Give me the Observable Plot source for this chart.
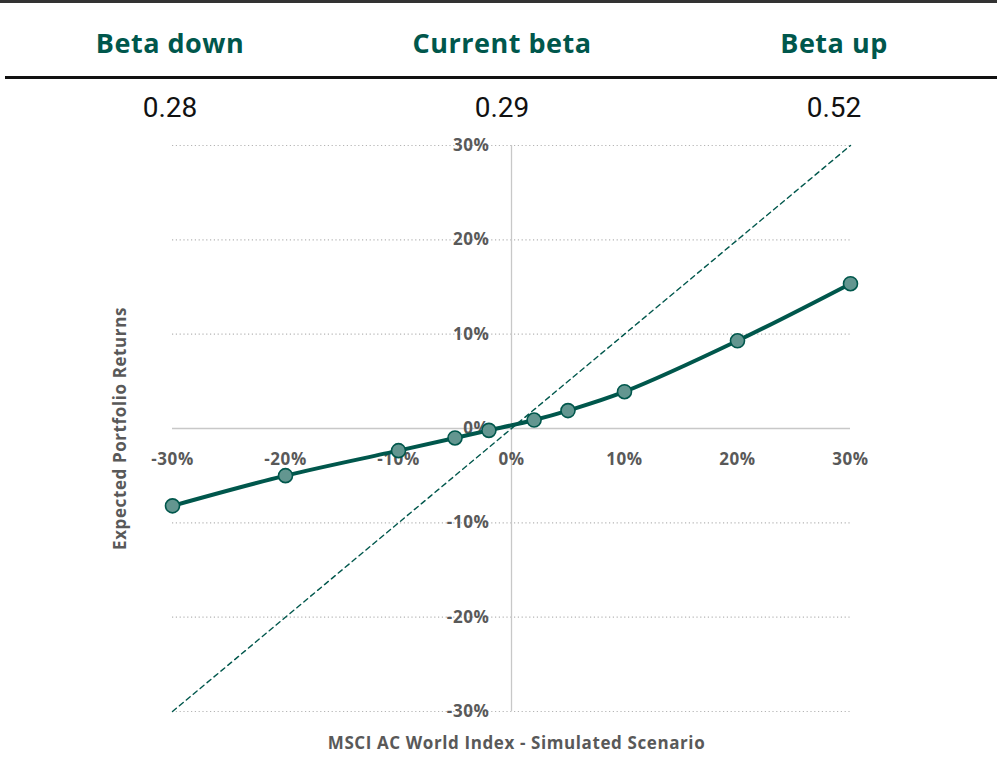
<!DOCTYPE html>
<html>
<head>
<meta charset="utf-8">
<script src="https://cdn.jsdelivr.net/npm/d3@7"></script>
<script src="https://cdn.jsdelivr.net/npm/@observablehq/plot@0.6"></script>
<style>
  html, body { margin: 0; padding: 0; background: #fff; }
  body { width: 997px; height: 764px; position: relative; overflow: hidden; font-family: "Open Sans", sans-serif; }
  .topline { position: absolute; left: 0; top: 0; width: 997px; height: 3px; background: #333; }
  .midline { position: absolute; left: 5px; top: 76px; width: 992px; height: 2.5px; background: #111; }
  .row { position: absolute; left: 4px; width: 996px; display: flex; }
  .row div { width: 332px; text-align: center; }
  .heads { top: 24px; font-weight: 700; font-size: 27px; color: #00574c; letter-spacing: 0.5px; }
  .vals { top: 91px; font-family: Roboto, sans-serif; font-size: 28px; color: #111; }
  #chart { position: absolute; left: 0; top: 124px; }
</style>
</head>
<body>
<div class="topline"></div>
<div class="row heads" id="heads"></div>
<div class="midline"></div>
<div class="row vals" id="vals"></div>
<div id="chart"></div>
<script>
const headers = ["Beta down", "Current beta", "Beta up"];
const betas = ["0.28", "0.29", "0.52"];

const marketReturns = [-30, -20, -10, -5, -2, 2, 5, 10, 20, 30];
const portfolioReturns = [-8.2, -5.0, -2.35, -1.0, -0.2, 0.9, 1.9, 3.9, 9.3, 15.35];

const xTicks = [-30, -20, -10, 0, 10, 20, 30];
const xTickLabels = ["-30%", "-20%", "-10%", "0%", "10%", "20%", "30%"];
const yTicks = [30, 20, 10, 0, -10, -20, -30];
const yTickLabels = ["30%", "20%", "10%", "0%", "-10%", "-20%", "-30%"];

const refLine = [-30, 30];

const xTitle = "MSCI AC World Index - Simulated Scenario";
const yTitle = "Expected Portfolio Returns";

headers.forEach(h => { const d = document.createElement("div"); d.textContent = h; document.getElementById("heads").appendChild(d); });
betas.forEach(v => { const d = document.createElement("div"); d.textContent = v; document.getElementById("vals").appendChild(d); });

const teal = "#00574c";
const axisGray = "#595959";
const data = marketReturns.map((x, i) => ({x, y: portfolioReturns[i]}));
const xt = xTicks.map((v, i) => ({v, label: xTickLabels[i]}));
const yt = yTicks.map((v, i) => ({v, label: yTickLabels[i]}));

const chart = Plot.plot({
  width: 997,
  height: 640,
  marginLeft: 172,
  marginRight: 147,
  marginTop: 21,
  marginBottom: 53,
  style: {fontFamily: "'Open Sans', sans-serif", background: "transparent", overflow: "visible", letterSpacing: "0.6px"},
  x: {domain: [-30, 30], axis: null},
  y: {domain: [-30, 30], axis: null},
  marks: [
    Plot.ruleY(yTicks.filter(v => v !== 0), {stroke: "#b5b5b5", strokeWidth: 1.2, strokeDasharray: "1.2,2.6"}),
    Plot.ruleY([0], {stroke: "#c8c8c8", strokeWidth: 1.3}),
    Plot.ruleX([0], {stroke: "#c8c8c8", strokeWidth: 1.3}),
    Plot.text(yt, {x: () => 0, y: "v", text: "label", dx: -22, textAnchor: "end", fontSize: 17, fontWeight: 700, fill: axisGray}),
    Plot.text(xt, {x: "v", y: () => 0, text: "label", dy: 31, fontSize: 17, fontWeight: 700, fill: axisGray}),
    Plot.line(refLine.map(v => ({x: v, y: v})), {x: "x", y: "y", stroke: teal, strokeWidth: 1.4, strokeDasharray: "5,4"}),
    Plot.line(data, {x: "x", y: "y", stroke: teal, strokeWidth: 4, curve: "catmull-rom"}),
    Plot.dot(data, {x: "x", y: "y", r: 7, fill: "#639690", stroke: teal, strokeWidth: 1.6}),
    Plot.text([xTitle], {frameAnchor: "bottom", dy: 37, dx: 5, fontSize: 17, fontWeight: 700, fill: axisGray}),
    Plot.text([yTitle], {frameAnchor: "left", textAnchor: "middle", dx: -52, rotate: -90, fontSize: 17, fontWeight: 700, fill: axisGray})
  ]
});
document.getElementById("chart").appendChild(chart);
</script>
</body>
</html>
